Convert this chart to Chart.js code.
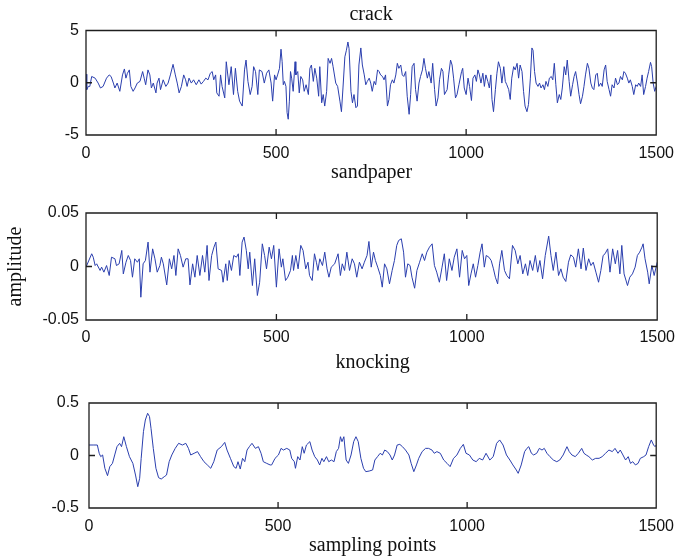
<!DOCTYPE html>
<html><head><meta charset="utf-8">
<script src="https://cdn.jsdelivr.net/npm/chart.js@4.4.1/dist/chart.umd.min.js"></script>
<style>
html,body{margin:0;padding:0;background:#fff;}
body{width:683px;height:559px;position:relative;overflow:hidden;}
.c{position:absolute;left:0;width:683px;}
</style></head><body>
<div class="c" style="top:0;height:160px"><canvas id="c1"></canvas></div>
<div class="c" style="top:160px;height:190px"><canvas id="c2"></canvas></div>
<div class="c" style="top:350px;height:209px"><canvas id="c3"></canvas></div>
<script>
// ---- data ----
const xTicks = [0, 500, 1000, 1500];

const crackX = [0,2,6,10,15,24,32,38,45,54,61,66,72,76,82,89,96,101,105,109,114,118,124,129,135,142,149,153,157,163,168,172,177,184,187,192,196,203,210,216,222,229,235,240,245,251,257,262,266,271,277,283,290,297,303,309,315,321,327,332,336,341,344,350,354,358,365,369,376,382,388,393,399,404,411,417,421,426,432,437,441,446,452,456,463,469,475,481,487,491,496,500,504,509,513,516,519,522,526,529,532,535,538,541,545,550,552,557,561,565,570,574,579,585,589,593,598,602,607,612,615,620,624,628,633,637,642,646,650,657,662,668,672,676,681,685,689,692,697,701,705,710,714,718,723,727,732,736,740,745,749,753,758,762,767,771,775,780,784,788,793,797,801,806,810,815,819,823,828,832,836,841,845,850,854,858,863,867,871,876,880,885,889,893,898,902,908,912,917,921,926,930,935,939,943,950,954,959,963,967,972,976,981,988,991,995,1000,1005,1009,1014,1018,1023,1027,1031,1035,1039,1044,1048,1052,1057,1061,1065,1068,1072,1077,1081,1085,1090,1094,1099,1103,1107,1112,1116,1120,1125,1129,1134,1138,1142,1147,1151,1155,1160,1164,1169,1173,1176,1180,1184,1189,1193,1197,1202,1206,1210,1215,1219,1224,1228,1232,1236,1240,1245,1249,1253,1258,1262,1266,1271,1275,1280,1284,1288,1293,1297,1301,1306,1310,1314,1319,1323,1328,1332,1336,1341,1345,1349,1354,1358,1363,1367,1371,1376,1380,1384,1389,1393,1398,1402,1406,1411,1415,1419,1424,1428,1432,1437,1441,1446,1450,1454,1459,1463,1467,1472,1476,1480,1485,1488,1492,1496,1500];
const crackY = [0.82,-0.66,-0.35,-0.35,0.6,0.44,-0.03,-0.5,-0.35,0.44,0.75,0.6,-0.03,-0.5,-0.03,-0.82,0.75,1.32,0.44,0.91,1.23,-0.35,-0.82,-0.5,-0.03,0.13,1.07,0.44,-0.19,1.23,0.75,-0.5,-0.03,-0.97,-0.03,0.44,-0.66,0.28,-0.35,-0.03,0.75,1.76,0.75,-0.03,-0.97,-0.35,0.75,0.28,-0.35,0.44,-0.03,0.28,-0.19,0.28,-0.13,0.13,0.44,0.28,0.91,1.07,0.28,0.75,-0.97,-1.29,0.75,-0.35,-1.45,2.01,-0.19,1.54,-1.13,1.38,-0.82,-1.76,-2.23,1.23,2.17,0.13,-1.13,-0.35,1.54,1.07,-1.13,1.23,1.07,-0.03,0.91,1.23,-0.03,-1.76,0.75,0.28,0.75,1.38,3.21,2.01,-0.19,0.13,-0.35,-2.86,-3.49,-1.76,1.07,0.44,-0.82,2.01,0.75,1.07,-0.97,0.6,0.28,-0.82,-0.19,-1.13,1.38,1.7,0.13,1.38,0.44,-1.29,1.54,-1.92,-1.13,-2.23,-0.82,2.33,1.86,2.33,1.54,-0.03,-0.35,-1.76,-2.77,-0.5,2.48,3.11,3.9,3.27,-0.82,-1.92,-1.13,-2.39,-2.23,1.7,3.33,1.7,0.75,-0.19,0.13,0.44,-0.03,-0.82,0.13,-0.19,1.23,1.07,0.75,0.6,0.28,0.75,-2.23,-1.6,-0.19,0.28,-0.03,0.75,1.86,1.38,1.7,0.75,0.6,1.07,-1.29,-3.02,-1.13,1.54,1.86,-0.66,-1.76,-0.03,0.6,1.23,2.33,1.38,0.44,1.07,-0.03,1.86,-0.66,-2.23,-1.45,0.28,1.38,1.07,-1.13,-0.66,0.75,2.17,1.7,0.44,-1.45,-1.13,-0.19,1.07,1.38,-0.5,-1.13,0.44,-0.35,-1.7,0.44,0.75,0.13,1.23,0.75,-0.03,0.91,-0.35,0.75,0.13,-0.5,0.75,-1.6,-2.77,-0.66,0.91,2.01,1.38,-0.03,1.54,0.13,-0.19,-0.66,-1.6,0.44,1.54,1.23,1.86,0.44,1.7,1.07,-0.82,-2.23,-2.77,-2.08,0.44,3.33,3.11,1.07,-0.03,-0.35,-0.03,-0.5,-0.19,-0.66,0.13,-0.35,0.44,0.6,0.28,1.86,-0.19,-1.92,-1.13,-1.6,-0.5,1.54,0.75,2.17,0.13,-1.29,-0.19,0.6,1.07,-0.03,-1.13,-2.01,-1.29,-0.35,0.75,1.86,1.38,-0.03,-0.5,-0.66,0.75,0.91,-0.35,-0.03,-0.35,1.23,1.7,0.13,-0.66,-1.29,-0.19,-0.5,0.44,-0.19,-0.03,0.6,0.28,1.07,0.91,0.44,-0.03,0.28,-0.35,-1.13,-0.19,-0.35,-0.03,-0.35,0.75,-1.13,-0.35,0.44,1.07,1.95,1.54,-0.03,-0.82,-0.35,-1.76];

const sandX = [0,15,19,24,28,37,41,47,54,61,67,76,80,87,94,98,105,111,117,122,128,135,140,144,150,156,163,168,175,181,187,194,198,203,212,219,225,231,236,242,248,255,262,268,273,280,286,292,299,306,312,318,323,330,336,341,347,356,360,367,371,376,382,388,395,400,404,410,415,421,426,430,437,443,450,456,463,469,474,481,487,493,500,507,513,517,524,530,537,542,545,551,557,564,570,577,583,587,594,600,605,609,614,621,627,633,638,644,653,662,668,673,679,685,692,699,705,711,718,725,731,738,743,749,755,760,766,773,778,784,790,797,804,810,816,821,828,834,839,845,851,856,863,869,876,883,889,895,902,909,915,921,928,935,941,947,954,961,967,974,981,988,994,1000,1005,1011,1017,1023,1029,1035,1040,1046,1051,1058,1064,1070,1075,1081,1086,1092,1099,1105,1112,1120,1127,1134,1140,1147,1154,1160,1166,1173,1180,1186,1192,1199,1206,1215,1221,1227,1234,1241,1247,1253,1260,1267,1273,1280,1286,1293,1300,1306,1313,1320,1326,1332,1339,1346,1352,1358,1363,1370,1376,1383,1390,1396,1402,1407,1413,1422,1428,1435,1442,1448,1454,1460,1463,1468,1475,1479,1486,1492,1500];
const sandY = [-0.0006,0.0119,0.0087,0.0009,0.0025,-0.0037,-0.0006,-0.0053,0.0009,-0.0084,0.0087,0.0072,0.0009,0.0025,0.015,-0.0069,0.004,0.0103,0.0056,-0.01,0.0072,0.004,0.0072,-0.0287,0.0025,0.0056,0.0228,-0.0053,0.0165,0.0072,-0.0053,0.0009,0.0087,0.0025,-0.0172,0.0072,-0.0022,0.0103,-0.0084,0.0165,0.0103,-0.0006,0.0072,0.0072,-0.0172,0.0025,-0.01,0.0103,-0.0084,0.0103,-0.0053,0.0197,-0.0131,0.0103,0.0181,0.0228,-0.0022,-0.0037,-0.0147,0.0025,-0.0131,0.0056,-0.0037,0.0103,0.0087,0.0119,-0.0084,0.0228,0.0275,0.015,-0.0022,0.0134,-0.0178,0.0072,-0.0271,-0.0147,0.0212,0.0103,-0.0022,0.0181,0.0072,0.0197,-0.0193,0.0165,-0.0006,0.0072,-0.0131,-0.01,-0.0037,0.0103,-0.0037,0.0103,-0.0022,0.0197,0.015,-0.0022,0.004,-0.0084,-0.0131,0.0119,0.004,-0.0037,0.0072,0.0009,0.0134,-0.0022,-0.01,-0.0006,0.0025,0.0119,-0.0084,0.0025,-0.0037,0.0134,-0.0037,0.0072,0.0025,-0.01,0.004,-0.0022,0.004,0.0103,0.0234,-0.0006,0.0134,0.0056,-0.0006,-0.0084,-0.0193,0.0025,-0.0022,-0.0162,-0.0037,0.0056,0.0197,0.0243,0.0259,0.0134,-0.01,0.0025,0.0009,-0.01,-0.0203,-0.0037,0.004,0.0119,0.0056,0.0134,0.0181,0.0212,0.0009,-0.0053,-0.0147,-0.0006,0.0119,-0.0131,0.0072,-0.0037,0.0087,0.0165,-0.01,0.015,0.0072,0.0103,-0.0178,-0.0069,0.0025,-0.01,0.0009,0.0134,0.0212,-0.0006,0.0103,0.0087,0.0056,-0.0022,-0.01,-0.0162,0.0025,0.015,-0.0037,-0.0084,-0.0115,0.0197,0.015,0.0025,0.0103,-0.0069,0.0025,-0.0084,0.0056,-0.0037,0.0103,-0.0053,0.0056,-0.0115,0.0103,0.0284,0.0103,-0.0037,0.0134,-0.0084,-0.0022,-0.01,-0.014,0.004,0.0109,0.0087,-0.0006,0.0165,-0.0022,0.0172,-0.0037,0.0072,0.0009,0.004,-0.0053,-0.0147,-0.0037,0.0103,0.0119,0.0165,-0.0053,0.0165,0.0025,0.015,-0.0069,0.0197,-0.0069,-0.0178,-0.01,-0.0069,-0.0006,0.0103,0.0134,0.0181,0.0212,0.0072,-0.0053,-0.0162,0.0009,-0.0084,0.004];

const knockX = [0,11,22,27,31,36,42,49,55,62,68,74,81,86,92,99,107,116,123,129,134,138,144,149,155,160,164,170,177,184,191,199,205,212,219,228,237,247,256,263,269,278,287,295,304,313,322,330,339,350,359,365,374,383,389,394,400,406,412,418,424,431,440,448,455,461,470,479,483,492,501,508,514,523,531,536,543,546,552,558,564,569,575,584,590,597,604,610,616,621,628,634,641,648,654,660,665,669,674,680,686,693,700,706,712,719,726,732,741,750,756,763,770,776,782,789,796,802,808,815,822,829,837,846,852,859,866,872,881,890,898,907,913,920,929,938,947,955,964,973,982,990,997,1006,1015,1024,1032,1041,1050,1060,1069,1078,1086,1095,1104,1113,1121,1130,1135,1143,1152,1158,1163,1170,1176,1184,1191,1198,1204,1211,1219,1228,1237,1245,1254,1264,1270,1277,1286,1294,1303,1309,1315,1322,1331,1340,1349,1357,1366,1375,1384,1391,1399,1405,1412,1419,1426,1432,1438,1445,1452,1458,1467,1473,1480,1487,1493,1497,1500];
const knockY = [0.1,0.1,0.1,0.021,-0.011,0.005,-0.122,-0.192,-0.106,-0.075,0.005,0.084,0.116,0.084,0.179,0.084,-0.011,-0.075,-0.186,-0.297,-0.217,-0.027,0.227,0.338,0.402,0.371,0.259,0.068,-0.122,-0.211,-0.224,-0.202,-0.186,-0.059,0.005,0.068,0.116,0.1,0.116,0.068,0.005,0.021,0.037,-0.011,-0.059,-0.09,-0.122,-0.059,0.052,0.084,0.125,0.052,-0.027,-0.106,-0.122,-0.059,-0.129,-0.027,-0.059,0.052,0.084,0.116,0.068,0.084,0.021,-0.059,-0.075,-0.09,-0.09,-0.027,0.005,0.068,0.052,0.068,0.052,-0.027,-0.059,-0.122,-0.011,-0.043,0.084,0.021,0.1,0.132,0.052,-0.011,-0.043,-0.09,-0.027,-0.059,-0.011,-0.059,-0.043,-0.059,0.037,0.068,0.179,0.132,0.179,-0.043,-0.075,0.005,0.132,0.179,0.132,-0.027,-0.122,-0.154,-0.148,-0.138,-0.043,-0.011,0.021,0.005,0.052,0.037,0.005,-0.043,0.005,0.1,0.106,0.084,0.052,0.005,-0.075,-0.154,-0.09,-0.027,0.037,0.068,0.068,0.052,0.021,0.037,0.021,-0.043,-0.075,-0.106,-0.027,0.005,0.068,0.106,0.021,0.005,-0.043,-0.059,-0.027,-0.043,0.021,-0.043,-0.011,0.116,0.148,0.1,0.005,-0.043,-0.09,-0.138,-0.17,-0.09,0.037,0.068,0.084,0.021,0.005,0.021,0.068,0.052,0.068,0.021,-0.011,-0.043,-0.059,-0.043,0.005,0.084,0.037,0.005,-0.011,0.021,0.068,0.021,0.005,-0.011,-0.043,-0.027,-0.027,-0.011,0.021,0.052,0.037,0.068,0.021,0.052,0.005,-0.043,-0.011,-0.075,-0.059,-0.09,-0.075,-0.027,-0.011,0.005,0.084,0.148,0.1,0.084,0.1];

const crackTicks = [-5, 0, 5];
const sandTicks = [-0.05, 0, 0.05];
const knockTicks = [-0.5, 0, 0.5];
// ---------------------------------------------

const LINE = '#2b3fae';
const AXIS = '#1e1e1e';
const SANS = '"Liberation Sans", Arial, sans-serif';
const SERIF = '"Liberation Serif", "Times New Roman", serif';

const boxTicks = {
  id: 'boxTicks',
  afterDatasetsDraw(chart) {
    const {ctx, chartArea: a, scales: {x, y}} = chart;
    const L = 6;
    ctx.save();
    ctx.strokeStyle = AXIS;
    ctx.lineWidth = 1.3;
    ctx.beginPath();
    ctx.rect(a.left, a.top, a.right - a.left, a.bottom - a.top);
    x.ticks.forEach(t => {
      const p = x.getPixelForValue(t.value);
      ctx.moveTo(p, a.bottom); ctx.lineTo(p, a.bottom - L);
      ctx.moveTo(p, a.top); ctx.lineTo(p, a.top + L);
    });
    y.ticks.forEach(t => {
      const p = y.getPixelForValue(t.value);
      ctx.moveTo(a.left, p); ctx.lineTo(a.left + L, p);
      ctx.moveTo(a.right, p); ctx.lineTo(a.right - L, p);
    });
    ctx.stroke();
    ctx.restore();
  }
};

function makeChart(id, xs, ys, yTicks, g) {
  const pts = xs.map((x, i) => ({x: x, y: ys[i]}));
  return new Chart(document.getElementById(id), {
    type: 'line',
    data: {datasets: [{data: pts, borderColor: LINE, borderWidth: 1, pointRadius: 0, tension: 0, fill: false}]},
    plugins: [boxTicks],
    options: {
      animation: false,
      responsive: true,
      maintainAspectRatio: false,
      events: [],
      layout: {padding: {left: 0, right: 683 - g.right, top: 0, bottom: 0}},
      plugins: {
        legend: {display: false},
        tooltip: {enabled: false},
        title: {display: true, text: g.title, color: '#111', fullSize: false,
          font: {family: SERIF, size: 20, weight: 'normal', lineHeight: 1.2},
          padding: {top: g.titleTop, bottom: g.titleBottom}}
      },
      scales: {
        x: {
          type: 'linear', min: 0, max: 1500,
          afterBuildTicks: s => { s.ticks = xTicks.map(v => ({value: v})); },
          afterFit: s => { s.height = g.xh; },
          grid: {display: false, drawTicks: false},
          border: {display: false},
          ticks: {color: '#111', font: {family: SANS, size: 16}, padding: g.xpad, maxRotation: 0, autoSkip: false,
            callback: v => String(v)},
          title: {display: !!g.xTitle, text: g.xTitle || '', color: '#111',
            font: {family: SERIF, size: 20, lineHeight: 1.2}, padding: {top: 0, bottom: 1}}
        },
        y: {
          type: 'linear', min: yTicks[0], max: yTicks[2],
          afterBuildTicks: s => { s.ticks = yTicks.map(v => ({value: v})); },
          afterFit: s => { s.width = g.left; },
          grid: {display: false, drawTicks: false},
          border: {display: false},
          ticks: {color: '#111', font: {family: SANS, size: 16}, padding: g.ypad, callback: v => String(v)},
          title: {display: !!g.yTitle, text: g.yTitle || '', color: '#111',
            font: {family: SERIF, size: 20, lineHeight: 1.2}, padding: {top: 4, bottom: 0}}
        }
      }
    }
  });
}

makeChart('c1', crackX, crackY, crackTicks,
  {title: 'crack', titleTop: 3, titleBottom: 3.5, left: 86, right: 658, xh: 25, xpad: 9, ypad: 7});
makeChart('c2', sandX, sandY, sandTicks,
  {title: 'sandpaper', titleTop: 1, titleBottom: 28, left: 86, right: 658, xh: 30, xpad: 8, ypad: 7, yTitle: 'amplitude'});
makeChart('c3', knockX, knockY, knockTicks,
  {title: 'knocking', titleTop: 1, titleBottom: 28, left: 89, right: 661, xh: 51, xpad: 9, ypad: 10, xTitle: 'sampling points'});
</script>
</body></html>
